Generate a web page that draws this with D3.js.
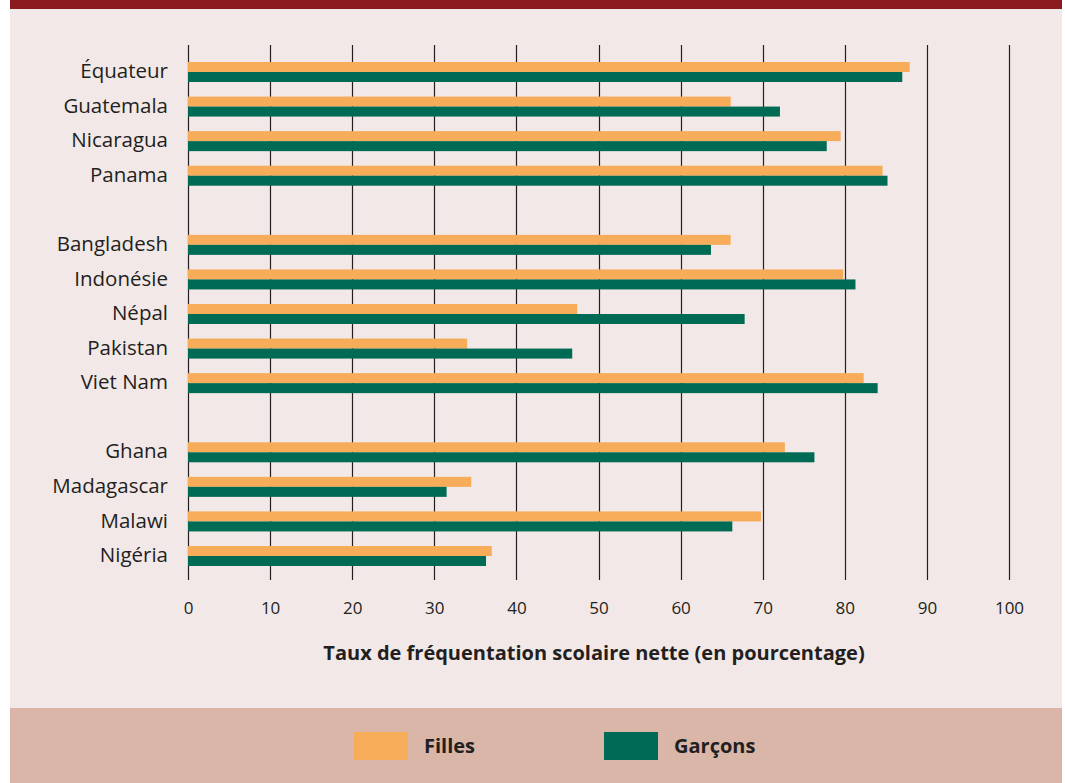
<!DOCTYPE html>
<html><head><meta charset="utf-8">
<script src="https://cdn.jsdelivr.net/npm/d3@7/dist/d3.min.js"></script>
<style>
html,body{margin:0;padding:0;background:#fff;}
svg{display:block;}
</style></head>
<body>
<svg id="chart" width="1065" height="783"></svg>
<script>
const groupA = ["Équateur","Guatemala","Nicaragua","Panama"];
const groupB = ["Bangladesh","Indonésie","Népal","Pakistan","Viet Nam"];
const groupC = ["Ghana","Madagascar","Malawi","Nigéria"];
const countries = [...groupA, ...groupB, ...groupC];
const filles  = [87.9, 66.1, 79.5, 84.6, 66.1, 79.8, 47.4, 34.0, 82.3, 72.7, 34.5, 69.8, 37.0];
const garcons = [87.0, 72.1, 77.8, 85.2, 63.7, 81.3, 67.8, 46.8, 84.0, 76.3, 31.5, 66.3, 36.3];
const ticks = [0,10,20,30,40,50,60,70,80,90,100];
const seriesNames = ["Filles","Garçons"];
const colors = ["#f7ac59","#006b54"];
const axisTitle = "Taux de fréquentation scolaire nette (en pourcentage)";

const svg = d3.select("#chart");
const font = "'Open Sans', 'Noto Sans', sans-serif";

// frames
svg.append("rect").attr("x",0).attr("y",0).attr("width",1065).attr("height",783).attr("fill","#ffffff");
svg.append("rect").attr("x",10).attr("y",0).attr("width",1052).attr("height",708).attr("fill","#f2e8e7");
svg.append("rect").attr("x",10).attr("y",0).attr("width",1052).attr("height",9).attr("fill","#8b1a1e");
svg.append("rect").attr("x",10).attr("y",708).attr("width",1052).attr("height",75).attr("fill","#d9b6a8");

const x = d3.scaleLinear().domain([0,100]).range([188,1009]);

// slots with spacers between groups
const slots = [...groupA, "_gap1", ...groupB, "_gap2", ...groupC];
const y = d3.scalePoint().domain(slots).range([72,556]);

const barH = 10;

// gridlines
svg.append("g").selectAll("line").data(ticks).join("line")
  .attr("x1",d=>Math.round(x(d))+0.5).attr("x2",d=>Math.round(x(d))+0.5)
  .attr("y1",45).attr("y2",580)
  .attr("stroke","#231f20").attr("stroke-width",1.2);

// bars
const data = countries.map((c,i)=>({c, f:filles[i], g:garcons[i]}));
const gb = svg.append("g");
gb.selectAll("rect.f").data(data).join("rect").attr("class","f")
  .attr("x",x(0)).attr("y",d=>y(d.c)-barH)
  .attr("width",d=>x(d.f)-x(0)).attr("height",barH).attr("fill",colors[0]);
gb.selectAll("rect.g").data(data).join("rect").attr("class","g")
  .attr("x",x(0)).attr("y",d=>y(d.c))
  .attr("width",d=>x(d.g)-x(0)).attr("height",barH).attr("fill",colors[1]);

// country labels
svg.append("g").selectAll("text").data(countries).join("text")
  .attr("x",168).attr("y",d=>y(d)).attr("dy","0.3em")
  .attr("text-anchor","end").attr("font-family",font).attr("font-size",20.5)
  .attr("fill","#231f20").text(d=>d);

// x axis tick labels
const axis = d3.axisBottom(x).tickValues(ticks).tickSize(0).tickPadding(0);
const ga = svg.append("g").attr("transform","translate(0,602)").call(axis);
ga.select(".domain").remove();
ga.selectAll("text").attr("font-family",font).attr("font-size",17).attr("fill","#231f20");

svg.append("text").attr("x",594).attr("y",660).attr("text-anchor","middle")
  .attr("font-family",font).attr("font-size",20).attr("font-weight","bold")
  .attr("fill","#231f20").text(axisTitle);

// legend
const legX = [354, 604];
const lg = svg.append("g");
seriesNames.forEach((s,i)=>{
  lg.append("rect").attr("x",legX[i]).attr("y",732).attr("width",54).attr("height",28).attr("fill",colors[i]);
  lg.append("text").attr("x",legX[i]+70).attr("y",746).attr("dy","0.35em")
    .attr("font-family",font).attr("font-size",20).attr("font-weight","bold")
    .attr("fill","#231f20").text(s);
});
</script>
</body></html>
